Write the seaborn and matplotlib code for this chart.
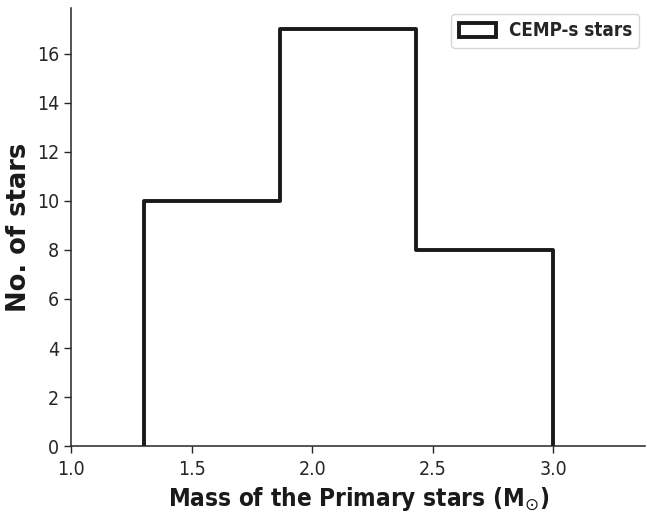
import numpy as np
import pandas as pd
import matplotlib
matplotlib.use("Agg")
import matplotlib.pyplot as plt
import seaborn as sns
from matplotlib.patches import Patch

# Data
bin_edges = [1.30, 1.865, 2.432, 3.00]
star_counts = [10, 17, 8]
series_label = "CEMP-s stars"
x_label = "Mass of the Primary stars (M$_{\\odot}$)"
y_label = "No. of stars"
x_ticks = [1.0, 1.5, 2.0, 2.5, 3.0]

sns.set_style("ticks")
plt.rcParams["font.family"] = ["DejaVu Sans"]

# pad with empty bins of negligible width so the step outline drops to zero at both ends
eps = 1e-9
edges = [bin_edges[0] - eps] + bin_edges + [bin_edges[-1] + eps]
weights = [0] + star_counts + [0]
centers = [(a + b) / 2 for a, b in zip(edges[:-1], edges[1:])]
df = pd.DataFrame({"mass": centers, "n": weights})

fig = plt.figure(figsize=(6.47, 5.14), dpi=100)
ax = fig.add_axes([0.110, 0.132, 0.887, 0.852])

sns.histplot(data=df, x="mass", weights="n", bins=edges, element="step",
             fill=False, color="#1a1a1a", linewidth=2.8, ax=ax)

ax.set_xlim(1.0, 3.38)
ax.set_xticks(x_ticks)
ax.set_yticks(range(0, 17, 2))
sns.despine(ax=ax)
for s in ["left", "bottom"]:
    ax.spines[s].set_color("#262626")
    ax.spines[s].set_linewidth(1.1)
ax.tick_params(axis="both", labelsize=14, length=5, width=1.0, color="#262626",
               labelcolor="#262626")
ax.tick_params(axis="x", pad=5)
for lab in ax.get_xticklabels() + ax.get_yticklabels():
    lab.set_fontstretch("condensed")

ax.set_xlabel(x_label, fontsize=17.5, fontweight="bold", fontstretch="condensed",
              color="#1a1a1a", labelpad=4)
ax.set_ylabel(y_label, fontsize=18.5, fontweight="bold", color="#1a1a1a", labelpad=4)

handle = Patch(facecolor="none", edgecolor="#1a1a1a", linewidth=2.8)
leg = ax.legend([handle], [series_label], loc="upper right",
                prop={"weight": "bold", "size": 13.5, "stretch": "condensed"},
                frameon=True, fancybox=True, borderaxespad=0.3, borderpad=0.4,
                handlelength=2.0, handleheight=0.8, handletextpad=0.65)
leg.get_frame().set_edgecolor("#cccccc")

fig.savefig("out.png", dpi=100)
